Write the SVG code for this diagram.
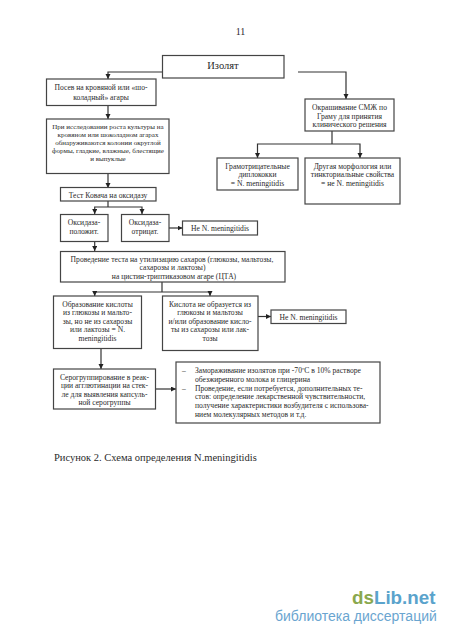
<svg xmlns="http://www.w3.org/2000/svg" width="450" height="636" viewBox="0 0 450 636">
<style>
text{font-family:"Liberation Serif","Times New Roman",serif;fill:#2a2a2a}
.b{fill:#fff;stroke:#444;stroke-width:1.2}
.t{font-size:7.6px;text-anchor:middle}
.s{font-size:7px;text-anchor:middle}
.l{font-size:7.6px}
.c{fill:none;stroke:#333;stroke-width:1.2;marker-end:url(#a)}
.n{fill:none;stroke:#333;stroke-width:1.2}
</style>
<defs><marker id="a" markerUnits="userSpaceOnUse" markerWidth="6" markerHeight="6" refX="5" refY="2.5" orient="auto"><path d="M0 0L5 2.5L0 5z" fill="#222"/></marker></defs>
<rect width="450" height="636" fill="#fff"/>
<text x="240.500" y="35" font-size="10" text-anchor="middle">11</text>
<g id="connectors">
<path class="c" d="M162 72H108V79"/>
<path class="c" d="M298 72H346V99"/>
<path class="c" d="M108 106V119"/>
<path class="c" d="M108 174V188"/>
<path class="n" d="M108 201V207"/>
<path class="c" d="M108 207H94.700V214"/>
<path class="c" d="M108 207H142V214"/>
<path class="c" d="M94.700 242V251"/>
<path class="c" d="M169 228H182.500"/>
<path class="n" d="M162 282V292"/>
<path class="c" d="M162 292H94.700V296"/>
<path class="c" d="M162 292H210V296"/>
<path class="c" d="M101 349V369"/>
<path class="c" d="M156 389H176"/>
<path class="c" d="M258 316.500H271"/>
<path class="n" d="M332 131V144"/>
<path class="c" d="M332 144H257.500V158"/>
<path class="c" d="M332 144H360V158"/>
</g>
<g id="n1"><rect class="b" x="162.500" y="55.500" width="121.500" height="22.500"/><text x="223" y="68.500" font-size="10.500" text-anchor="middle">Изолят</text></g>
<g id="n2"><rect class="b" x="46.500" y="79" width="109.500" height="26.500"/><text class="t" x="101" y="89.500">Посев на кровяной или «шо-</text><text class="t" x="101" y="99.500">коладный» агары</text></g>
<g id="n3"><rect class="b" x="46.500" y="119" width="122.500" height="54.500"/><text class="s" x="108" y="129">При исследовании  роста культуры на</text><text class="s" x="108" y="137">кровяном или шоколадном агарах</text><text class="s" x="108" y="145">обнаруживаются колонии округлой</text><text class="s" x="108" y="153">формы, гладкие, влажные, блестящие</text><text class="s" x="108" y="161">и выпуклые</text></g>
<g id="n4"><rect class="b" x="60.500" y="187.500" width="95.500" height="13.500"/><text class="t" x="108" y="197.500">Тест Ковача на оксидазу</text></g>
<g id="n5"><rect class="b" x="60.500" y="214.500" width="47.500" height="27"/><text class="t" x="84" y="224.500">Оксидаза-</text><text class="t" x="84" y="234">положит.</text></g>
<g id="n6"><rect class="b" x="121.500" y="214.500" width="47.500" height="27"/><text class="t" x="145" y="224.500">Оксидаза-</text><text class="t" x="145" y="234">отрицат.</text></g>
<g id="n7"><rect class="b" x="182.500" y="221" width="75" height="14"/><text class="t" x="220" y="231">Не N. meningitidis</text></g>
<g id="n8"><rect class="b" x="60.500" y="251.500" width="224.500" height="30.500"/><text class="t" x="172" y="261.500">Проведение  теста на утилизацию сахаров (глюкозы, мальтозы,</text><text class="t" x="172.500" y="270">сахарозы и лактозы)</text><text class="t" x="174" y="279">на цистин-триптиказовом агаре (ЦТА)</text></g>
<g id="n9"><rect class="b" x="53.500" y="296" width="88" height="52.500"/><text class="t" x="97.500" y="306.500">Образование кислоты</text><text class="t" x="97.500" y="315">из глюкозы и мальто-</text><text class="t" x="97.500" y="323.500">зы, но не из сахарозы</text><text class="t" x="97.500" y="332">или лактозы = N.</text><text class="t" x="97.500" y="341">meningitidis</text></g>
<g id="n10"><rect class="b" x="162.500" y="296" width="95.500" height="54.500"/><text class="t" x="210" y="306.500">Кислота не образуется из</text><text class="t" x="210" y="315">глюкозы и мальтозы</text><text class="t" x="210" y="323.500">и/или образование кисло-</text><text class="t" x="210" y="332">ты из сахарозы или лак-</text><text class="t" x="210" y="341">тозы</text></g>
<g id="n11"><rect class="b" x="271" y="310" width="75" height="13.500"/><text class="t" x="308.500" y="319.500">Не N. meningitidis</text></g>
<g id="n12"><rect class="b" x="53.500" y="369" width="102" height="40"/><text class="t" x="104.500" y="379.500">Серогруппирование в реак-</text><text class="t" x="104.500" y="388">ции агглютинации на стек-</text><text class="t" x="104.500" y="396.500">ле для выявления капсуль-</text><text class="t" x="104.500" y="405">ной серогруппы</text></g>
<g id="n13"><rect class="b" x="176" y="362" width="204" height="61"/><text class="l" x="182" y="372.500">–</text><text class="l" x="195" y="372.500">Замораживание изолятов при -70ºС в 10% растворе</text><text class="l" x="195" y="381.500">обезжиренного молока и глицерина</text><text class="l" x="182" y="390.500">–</text><text class="l" x="195" y="390.500">Проведение, если потребуется, дополнительных те-</text><text class="l" x="195" y="399">стов: определение лекарственной чувствительности,</text><text class="l" x="195" y="408">получение характеристики возбудителя с использова-</text><text class="l" x="195" y="417">нием молекулярных методов и т.д.</text></g>
<g id="n14"><rect class="b" x="305" y="99" width="89" height="32"/><text class="t" x="349.500" y="109.500">Окрашивание СМЖ по</text><text class="t" x="349.500" y="118.500">Граму для принятия</text><text class="t" x="349.500" y="127">клинического решения</text></g>
<g id="n15"><rect class="b" x="217" y="158" width="81" height="32"/><text class="t" x="257.500" y="168.500">Грамотрицательные</text><text class="t" x="257.500" y="177">диплококки</text><text class="t" x="257.500" y="186">= N. meningitidis</text></g>
<g id="n16"><rect class="b" x="305" y="158" width="95" height="46"/><text class="t" x="352.500" y="168.500">Другая морфология или</text><text class="t" x="352.500" y="177">тинкториальные свойства</text><text class="t" x="352.500" y="186">= не N. meningitidis</text></g>
<text x="54" y="461" font-size="10.500">Рисунок 2. Схема определения N.meningitidis</text>
<text x="352" y="604" font-size="18.800" font-weight="700" style="font-family:'Liberation Sans',sans-serif"><tspan fill="#8aa84e">ds</tspan><tspan fill="#5aa3cc">Lib.net</tspan></text>
<text x="275" y="621" font-size="14" style="font-family:'Liberation Sans',sans-serif;fill:#6aa5d0">библиотека диссертаций</text>
</svg>
